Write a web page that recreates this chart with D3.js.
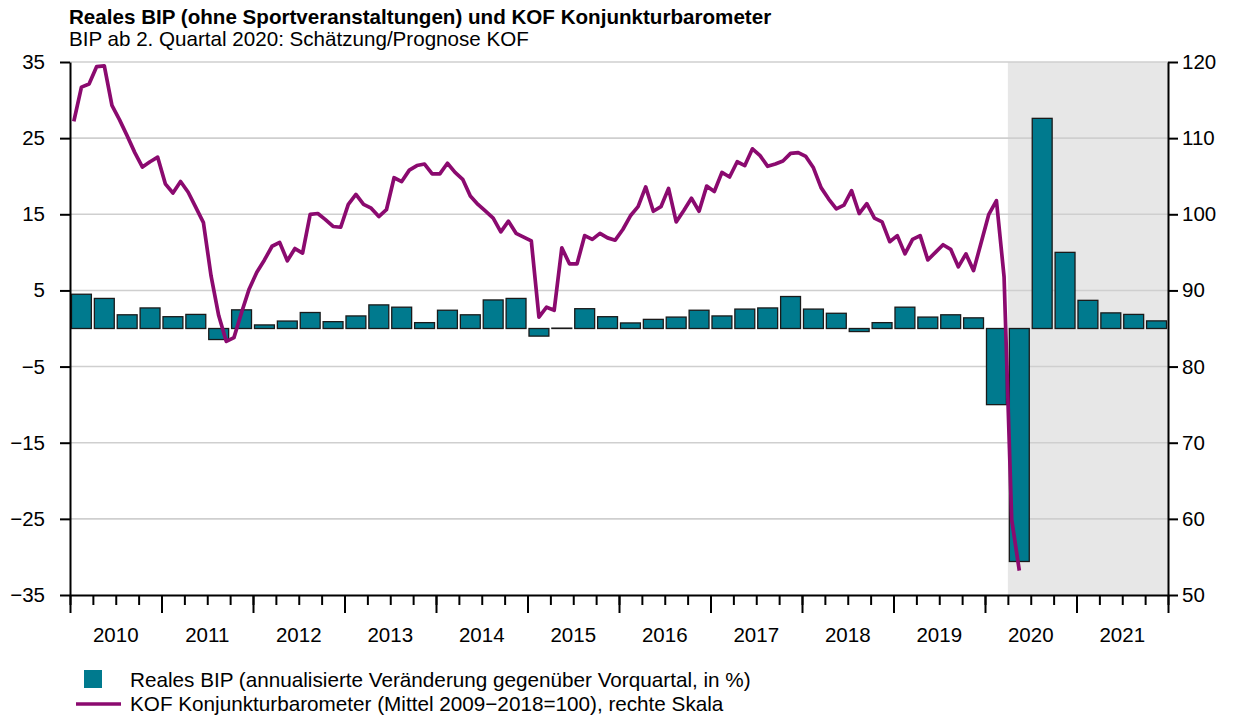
<!DOCTYPE html>
<html>
<head>
<meta charset="utf-8">
<script src="https://cdn.jsdelivr.net/npm/d3@7"></script>
<style>
  body { margin: 0; background: #fff; }
  svg text { font-family: "Liberation Sans", Arial, sans-serif; fill: #000; }
</style>
</head>
<body>
<svg id="chart" width="1237" height="718"></svg>
<script>
const years = ["2010", "2011", "2012", "2013", "2014", "2015", "2016", "2017", "2018", "2019", "2020", "2021"];

// Reales BIP, annualisierte Veränderung gegenüber Vorquartal (Q1..Q4 je Jahr)
const bip = [
  4.5, 3.95, 1.8, 2.7,
  1.55, 1.85, -1.45, 2.45,
  0.47, 0.98, 2.1, 0.9,
  1.65, 3.1, 2.8, 0.77,
  2.4, 1.8, 3.75, 3.95,
  -1.0, 0.05, 2.6, 1.55,
  0.73, 1.2, 1.5, 2.4,
  1.65, 2.55, 2.7, 4.2,
  2.55, 2.0, -0.4, 0.77,
  2.8, 1.5, 1.8, 1.4,
  -10.0, -30.6, 27.6, 10.0,
  3.7, 2.05, 1.85, 1.0
];

// KOF Konjunkturbarometer, monatlich ab Jan 2010
const kof = [
  112.2, 116.7, 117.1, 119.4, 119.5, 114.3, 112.4, 110.3, 108.1, 106.2, 106.9, 107.5,
  104.0, 102.8, 104.3, 102.9, 100.9, 98.9, 91.9, 86.7, 83.3, 83.8, 87.1, 90.2,
  92.4, 94.0, 95.8, 96.3, 93.9, 95.5, 94.9, 100.0, 100.1, 99.3, 98.4, 98.3,
  101.3, 102.6, 101.3, 100.8, 99.7, 100.6, 104.8, 104.3, 105.8, 106.4, 106.6, 105.3,
  105.3, 106.7, 105.5, 104.6, 102.4, 101.3, 100.4, 99.5, 97.7, 99.1, 97.5, 97.0,
  96.5, 86.5, 87.8, 87.4, 95.6, 93.5, 93.5, 97.2, 96.7, 97.5, 96.9, 96.6,
  98.0, 99.8, 101.0, 103.6, 100.4, 101.0, 103.4, 99.0, 100.5, 102.1, 100.4, 103.7,
  103.0, 105.5, 104.9, 106.9, 106.4, 108.6, 107.7, 106.3, 106.6, 107.0, 108.0, 108.1,
  107.6, 106.1, 103.5, 102.0, 100.7, 101.2, 103.1, 100.1, 101.4, 99.5, 99.0, 96.4,
  97.2, 94.8, 96.7, 97.2, 94.0, 95.0, 96.0, 95.4, 93.1, 94.8, 92.6, 96.3,
  100.0, 101.8, 91.8, 59.9, 53.2
];

const leftTicks = [-35, -25, -15, -5, 5, 15, 25, 35];
const rightTicks = [50, 60, 70, 80, 90, 100, 110, 120];
const forecastFrom = "2020 Q2";

const title = "Reales BIP (ohne Sportveranstaltungen) und KOF Konjunkturbarometer";
const subtitle = "BIP ab 2. Quartal 2020: Schätzung/Prognose KOF";
const legendBip = "Reales BIP (annualisierte Veränderung gegenüber Vorquartal, in %)";
const legendKof = "KOF Konjunkturbarometer (Mittel 2009\u22122018=100), rechte Skala";

const barColor = "#007a8e";
const lineColor = "#8b0a6f";

const quarters = [];
years.forEach((yr) => ["Q1", "Q2", "Q3", "Q4"].forEach((q) => quarters.push(yr + " " + q)));

const plotLeft = 70, plotRight = 1168, plotTop = 62, plotBottom = 595;
const svg = d3.select("#chart");

const x = d3.scaleBand().domain(quarters).range([plotLeft, plotRight]).paddingInner(0.13).paddingOuter(0.065);
const xm = d3.scaleLinear().domain([0, years.length * 12]).range([plotLeft, plotRight]); // months
const y = d3.scaleLinear().domain([-35, 35]).range([plotBottom, plotTop]);
const y2 = d3.scaleLinear().domain([50, 120]).range([plotBottom, plotTop]);

// forecast shading
const fIdx = quarters.indexOf(forecastFrom);
svg.append("rect")
  .attr("x", xm(fIdx * 3))
  .attr("y", plotTop)
  .attr("width", plotRight - xm(fIdx * 3))
  .attr("height", plotBottom - plotTop)
  .attr("fill", "#e7e7e7");

// gridlines
svg.append("g")
  .selectAll("line")
  .data(leftTicks.filter((d) => d > -35))
  .join("line")
  .attr("x1", plotLeft)
  .attr("x2", plotRight)
  .attr("y1", (d) => y(d))
  .attr("y2", (d) => y(d))
  .attr("stroke", "#cfcfcf")
  .attr("stroke-width", 1.6);

// bars
svg.append("g")
  .selectAll("rect")
  .data(bip)
  .join("rect")
  .attr("x", (d, i) => x(quarters[i]))
  .attr("width", x.bandwidth())
  .attr("y", (d) => y(Math.max(0, d)))
  .attr("height", (d) => Math.abs(y(d) - y(0)))
  .attr("fill", barColor)
  .attr("stroke", "#1a1a1a")
  .attr("stroke-width", 1.3);

// KOF line
const line = d3.line()
  .x((d, i) => xm(i + 0.5))
  .y((d) => y2(d));

svg.append("path")
  .datum(kof)
  .attr("d", line)
  .attr("fill", "none")
  .attr("stroke", lineColor)
  .attr("stroke-width", 3.7)
  .attr("stroke-linejoin", "round");

// axes
const axisStyle = (g) => {
  g.selectAll("path, line").attr("stroke", "#000").attr("stroke-width", 2);
  g.selectAll("text").style("font-size", "20.5px").attr("fill", "#000");
};

svg.append("g")
  .attr("transform", `translate(${plotLeft},0)`)
  .call(d3.axisLeft(y).tickValues(leftTicks).tickSize(10).tickSizeOuter(0).tickPadding(15))
  .call(axisStyle);

svg.append("g")
  .attr("transform", `translate(${plotRight},0)`)
  .call(d3.axisRight(y2).tickValues(rightTicks).tickSize(10).tickSizeOuter(0).tickPadding(4))
  .call(axisStyle);

const quarterTicks = d3.range(0, years.length * 12 + 1, 3);
svg.append("g")
  .attr("transform", `translate(0,${plotBottom})`)
  .call(d3.axisBottom(xm).tickValues(quarterTicks).tickSize(10).tickSizeOuter(0).tickFormat(""))
  .call(axisStyle);

svg.append("g")
  .attr("transform", `translate(0,${plotBottom})`)
  .call(d3.axisBottom(xm).tickValues(d3.range(0, years.length * 12 + 1, 12)).tickSize(18).tickSizeOuter(0).tickFormat(""))
  .call(axisStyle)
  .call((g) => g.select(".domain").remove());

svg.append("g")
  .selectAll("text")
  .data(years)
  .join("text")
  .attr("x", (d, i) => xm(i * 12 + 6))
  .attr("y", 642)
  .attr("text-anchor", "middle")
  .style("font-size", "20.5px")
  .text((d) => d);

// titles
svg.append("text")
  .attr("x", 69).attr("y", 24)
  .style("font-size", "20.6px")
  .style("font-weight", "bold")
  .text(title);

svg.append("text")
  .attr("x", 69).attr("y", 46)
  .style("font-size", "20.6px")
  .text(subtitle);

// legend
svg.append("rect")
  .attr("x", 84).attr("y", 670)
  .attr("width", 18).attr("height", 18)
  .attr("fill", barColor);

svg.append("text")
  .attr("x", 130).attr("y", 687)
  .style("font-size", "20.7px")
  .text(legendBip);

svg.append("line")
  .attr("x1", 76).attr("x2", 121)
  .attr("y1", 704).attr("y2", 704)
  .attr("stroke", lineColor)
  .attr("stroke-width", 3.7);

svg.append("text")
  .attr("x", 130).attr("y", 711)
  .style("font-size", "20.7px")
  .text(legendKof);
</script>
</body>
</html>
